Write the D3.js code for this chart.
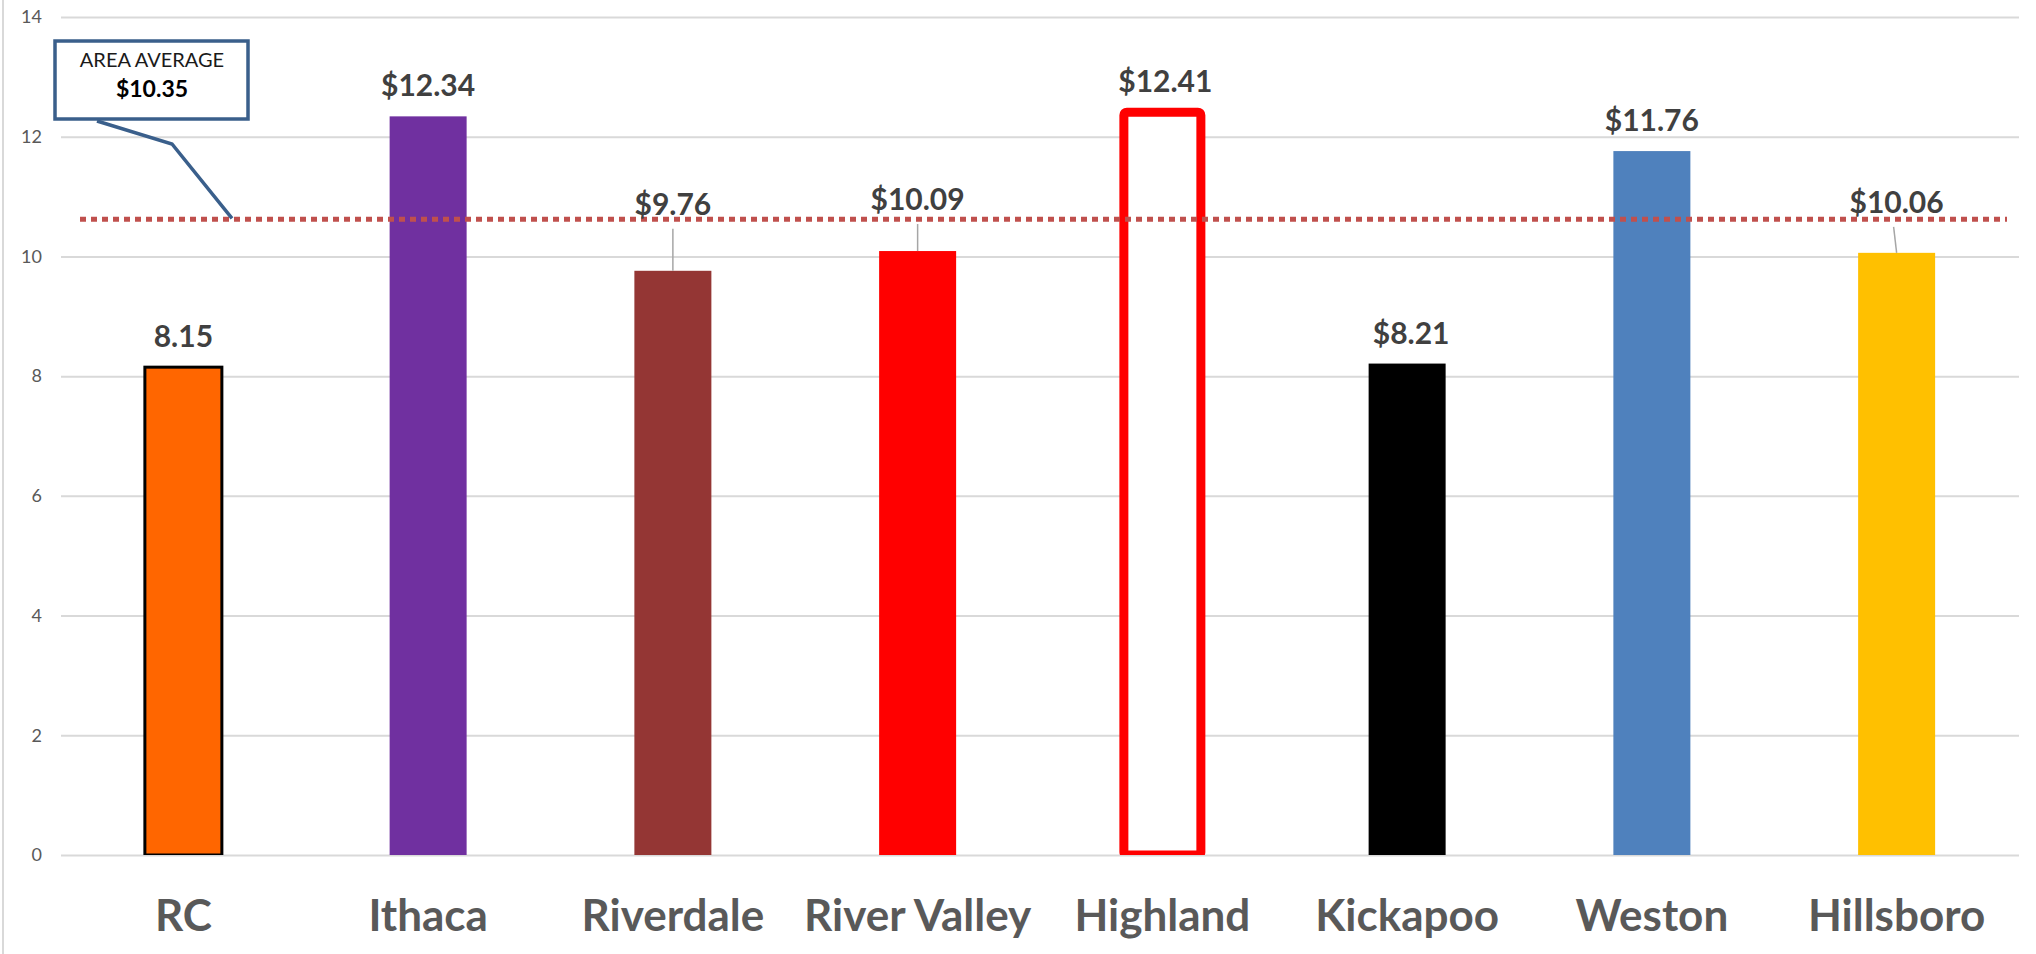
<!DOCTYPE html>
<html>
<head>
<meta charset="utf-8">
<script src="https://cdn.jsdelivr.net/npm/d3@7/dist/d3.min.js"></script>
<style>
  html, body { margin: 0; padding: 0; background: #fff; }
  svg { display: block; }
  text { font-family: Lato, "Open Sans", sans-serif; }
</style>
</head>
<body>
<svg id="chart" width="2036" height="954"></svg>
<script>
// ---- data ----
const categories = ["RC", "Ithaca", "Riverdale", "River Valley", "Highland", "Kickapoo", "Weston", "Hillsboro"];
const values = [8.15, 12.34, 9.76, 10.09, 12.41, 8.21, 11.76, 10.06];
const valueLabels = ["8.15", "$12.34", "$9.76", "$10.09", "$12.41", "$8.21", "$11.76", "$10.06"];
const barColors = ["#FF6600", "#7030A0", "#943634", "#FF0000", "#FFFFFF", "#000000", "#4F81BD", "#FFC000"];
const yTicks = [0, 2, 4, 6, 8, 10, 12, 14];
const averageLineValue = 10.62;
const averageTitle = "AREA AVERAGE";
const averageLabel = "$10.35";

// ---- layout / style ----
const W = 2036, H = 954;
const plot = { left: 61, right: 2019, top: 17, bottom: 855 };
const labelRaise = { "Riverdale": 56, "River Valley": 41, "Hillsboro": 40 }; // labels moved up, with leader lines
const defaultRaise = 20;

const svg = d3.select("#chart");

// chart border (left edge visible)
svg.append("line").attr("x1", 3).attr("x2", 3).attr("y1", 0).attr("y2", H)
  .attr("stroke", "#D9D9D9").attr("stroke-width", 2);

const x = d3.scaleBand().domain(categories).range([plot.left, plot.right])
  .paddingInner(0.6854).paddingOuter(0.6854 / 2);
const y = d3.scaleLinear().domain([0, 14]).range([plot.bottom, plot.top]);

// gridlines
const yAxis = d3.axisLeft(y).tickValues(yTicks).tickSize(-(plot.right - plot.left)).tickPadding(19);
const gy = svg.append("g").attr("transform", `translate(${plot.left},0)`).call(yAxis);
gy.select(".domain").remove();
gy.selectAll(".tick line").attr("stroke", "#D9D9D9").attr("stroke-width", 2);
gy.selectAll(".tick text").attr("fill", "#595959").style("font-size", "18px")
  .style("font-family", "Lato, sans-serif");

// bars
const data = categories.map((c, i) => ({ c, v: values[i], label: valueLabels[i], color: barColors[i] }));

svg.append("defs").append("clipPath").attr("id", "plotclip")
  .append("rect").attr("x", 0).attr("y", 0).attr("width", W).attr("height", plot.bottom);

const bars = svg.append("g").attr("clip-path", "url(#plotclip)");
bars.selectAll("rect").data(data).join("rect")
  .attr("x", d => x(d.c))
  .attr("y", d => y(d.v))
  .attr("width", x.bandwidth())
  .attr("height", d => y(0) - y(d.v))
  .attr("fill", d => d.color)
  .attr("rx", d => d.c === "Highland" ? 3 : 0)
  .attr("stroke", d => d.c === "RC" ? "#000" : (d.c === "Highland" ? "#FF0000" : "none"))
  .attr("stroke-width", d => d.c === "RC" ? 3 : (d.c === "Highland" ? 9 : 0));

// average dotted line
svg.append("line")
  .attr("x1", 80).attr("x2", 2007)
  .attr("y1", y(averageLineValue)).attr("y2", y(averageLineValue))
  .attr("stroke", "#C0504D").attr("stroke-width", 5)
  .attr("stroke-dasharray", "6 5");

// leader lines
data.forEach(d => {
  if (labelRaise[d.c] !== undefined) {
    const top = y(d.v);
    const base = top - labelRaise[d.c];
    const cx = x(d.c) + x.bandwidth() / 2;
    svg.append("line")
      .attr("x1", cx - (d.c === "Hillsboro" ? 3 : 0)).attr("y1", base + 14)
      .attr("x2", cx).attr("y2", top)
      .attr("stroke", "#A6A6A6").attr("stroke-width", 1.5);
  }
});

// value labels
svg.append("g").selectAll("text").data(data).join("text")
  .attr("x", d => x(d.c) + x.bandwidth() / 2 + (d.c === "Highland" ? 3 : 0) + (d.c === "Kickapoo" ? 4 : 0))
  .attr("y", d => y(d.v) - (labelRaise[d.c] !== undefined ? labelRaise[d.c] : defaultRaise))
  .attr("text-anchor", "middle")
  .attr("fill", "#404040")
  .style("font-size", "30px").style("font-weight", "bold")
  .text(d => d.label);

// category labels
svg.append("g").selectAll("text").data(categories).join("text")
  .attr("x", c => x(c) + x.bandwidth() / 2)
  .attr("y", 931)
  .attr("text-anchor", "middle")
  .attr("fill", "#595959")
  .style("font-size", "44px").style("font-weight", "bold")
  .text(c => c);

// callout
const callout = svg.append("g");
callout.append("polyline")
  .attr("points", [[97, 121], [172, 144], [232, y(averageLineValue) - 1]].map(p => p.join(",")).join(" "))
  .attr("fill", "none").attr("stroke", "#3A5F8B").attr("stroke-width", 3.5);
callout.append("rect").attr("x", 55).attr("y", 41).attr("width", 193).attr("height", 78)
  .attr("fill", "#fff").attr("stroke", "#3A5F8B").attr("stroke-width", 3.5);
callout.append("text").attr("x", 152).attr("y", 67).attr("text-anchor", "middle")
  .attr("fill", "#1a1a1a").style("font-size", "20px").text(averageTitle);
callout.append("text").attr("x", 152).attr("y", 97).attr("text-anchor", "middle")
  .attr("fill", "#000").style("font-size", "23px").style("font-weight", "bold").text(averageLabel);
</script>
</body>
</html>
